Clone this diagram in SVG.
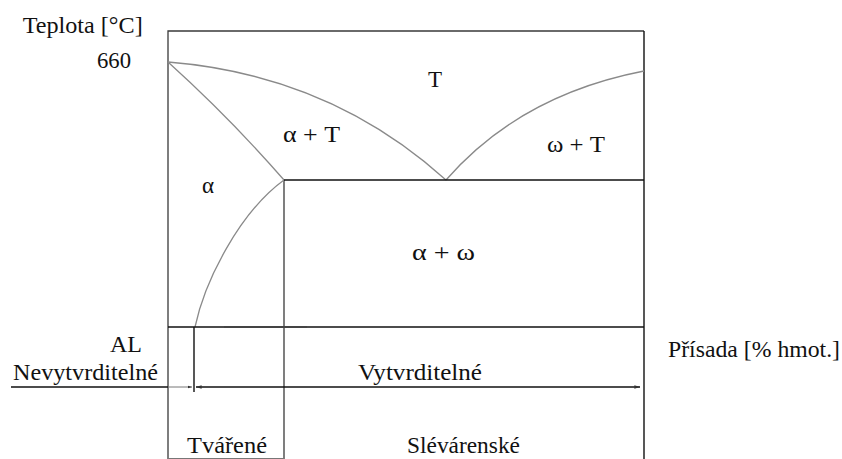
<svg xmlns="http://www.w3.org/2000/svg" width="842" height="459" viewBox="0 0 842 459">
<defs>
<style>
text { font-family: "Liberation Serif", "Times New Roman", serif; font-size: 23px; fill: #111; }
.frame { stroke: #3a3a3a; stroke-width: 1.3; fill: none; }
.dark { stroke: #111; stroke-width: 1.4; fill: none; }
.curve { stroke: #8a8a8a; stroke-width: 1.3; fill: none; }
.thin { stroke: #777; stroke-width: 1; fill: none; }
</style>
<marker id="ah" viewBox="0 0 6 6" refX="6" refY="3" markerWidth="5" markerHeight="4" orient="auto-start-reverse">
<path d="M0,1 L6,3 L0,5 z" fill="#333"/>
</marker>
</defs>
<rect width="842" height="459" fill="#fff"/>

<g id="axes">
<path class="frame" d="M168,459 L168,31 L644,31"/>
<path class="dark" d="M644,31 L644,459"/>
<path class="frame" d="M284,180 L284,459"/>
<path class="thin" d="M168,458.5 L284,458.5"/>
</g>

<g id="connectors">
<path id="liquidus-left" class="curve" d="M168,62 Q330,75 446,180"/>
<path id="liquidus-right" class="curve" d="M446,180 Q520,95 644,71"/>
<path id="solidus" class="curve" d="M168,62 Q230,118 284,180"/>
<path id="solvus" class="curve" d="M195,327 C205,280 240,212 284,180"/>
<path id="eutectic" class="dark" d="M284,180 L644,180"/>
<path id="base" class="dark" d="M168,327 L644,327"/>
<path style="stroke:#444;stroke-width:2.2;fill:none" d="M224,327 L307,327"/>
<path id="split" class="dark" d="M194,327 L194,392"/>
<path id="scale" class="dark" d="M11,387 L168,387"/>
<path class="thin" d="M168,387 L192,387" marker-end="url(#ah)"/>
<path class="dark" d="M196,387 L640,387" marker-start="url(#ah)" marker-end="url(#ah)"/>
</g>

<g id="label-teplota"><text x="22.7" y="33" textLength="120" lengthAdjust="spacingAndGlyphs">Teplota [°C]</text></g>
<g id="label-660"><text x="97" y="68" textLength="34" lengthAdjust="spacingAndGlyphs">660</text></g>
<g id="region-T"><text x="428" y="87">T</text></g>
<g id="region-alpha-T"><text x="283" y="142" textLength="57" lengthAdjust="spacingAndGlyphs">α + T</text></g>
<g id="region-omega-T"><text x="547" y="152" textLength="58" lengthAdjust="spacingAndGlyphs">ω + T</text></g>
<g id="region-alpha"><text x="202" y="193">α</text></g>
<g id="region-alpha-omega"><text x="412" y="260" textLength="63" lengthAdjust="spacingAndGlyphs">α + ω</text></g>
<g id="label-AL"><text x="110" y="352" textLength="32" lengthAdjust="spacingAndGlyphs">AL</text></g>
<g id="label-nevytvrditelne"><text x="13" y="380" textLength="145" lengthAdjust="spacingAndGlyphs">Nevytvrditelné</text></g>
<g id="label-vytvrditelne"><text x="358" y="380" textLength="124" lengthAdjust="spacingAndGlyphs">Vytvrditelné</text></g>
<g id="label-prisada"><text x="668" y="357" textLength="172" lengthAdjust="spacingAndGlyphs">Přísada [% hmot.]</text></g>
<g id="label-tvarene"><text x="187" y="453" textLength="80" lengthAdjust="spacingAndGlyphs">Tvářené</text></g>
<g id="label-slevarenske"><text x="407" y="453" textLength="113" lengthAdjust="spacingAndGlyphs">Slévárenské</text></g>
</svg>
